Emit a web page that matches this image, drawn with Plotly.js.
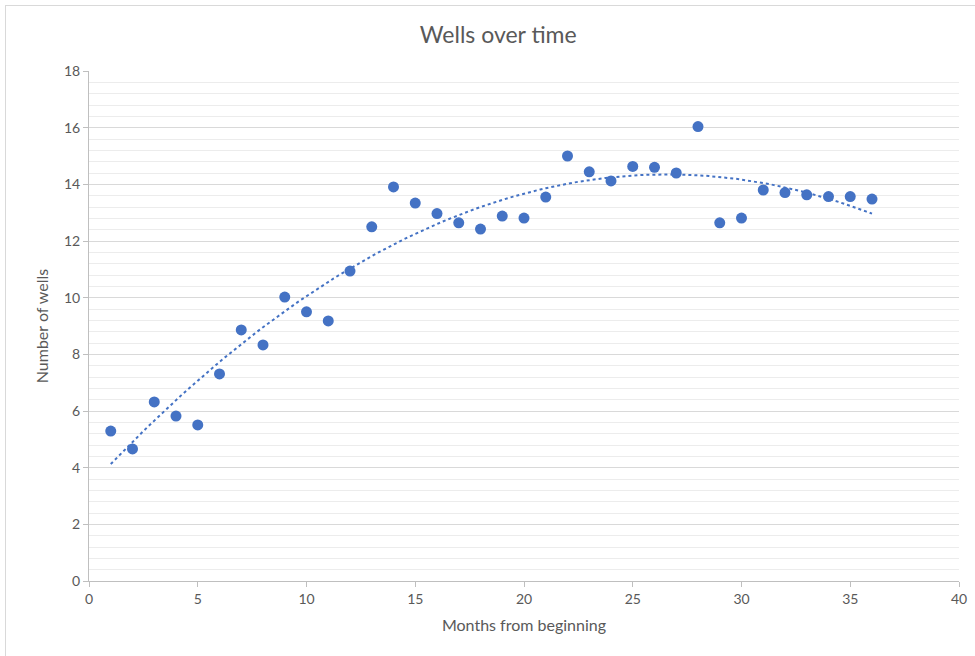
<!DOCTYPE html>
<html>
<head>
<meta charset="utf-8">
<script src="https://cdn.plot.ly/plotly-3.0.1.min.js"></script>
<style>
html,body{margin:0;padding:0;background:#fff;overflow:hidden;}
#frame{position:absolute;left:5px;top:5px;width:1000px;height:700px;border:1px solid #d9d9d9;box-sizing:border-box;}
#chart{position:absolute;left:0;top:0;width:975px;height:656px;}
</style>
</head>
<body>
<div id="frame"></div>
<div id="chart"></div>
<script>
const months = [1,2,3,4,5,6,7,8,9,10,11,12,13,14,15,16,17,18,19,20,21,22,23,24,25,26,27,28,29,30,31,32,33,34,35,36];
const wells = [5.29,4.66,6.32,5.82,5.51,7.31,8.86,8.33,10.02,9.50,9.18,10.94,12.50,13.91,13.34,12.97,12.64,12.42,12.88,12.81,13.55,15.00,14.44,14.12,14.63,14.60,14.40,16.04,12.64,12.81,13.80,13.71,13.63,13.57,13.57,13.48];
const xTicks = [0,5,10,15,20,25,30,35,40];
const yTicks = [0,2,4,6,8,10,12,14,16,18];

// Order-2 polynomial least-squares trendline computed from the data
function polyFit2(xs, ys){
  let S=[0,0,0,0,0], T=[0,0,0];
  for(let i=0;i<xs.length;i++){
    const x=xs[i], y=ys[i];
    for(let k=0;k<5;k++) S[k]+=Math.pow(x,k);
    for(let k=0;k<3;k++) T[k]+=y*Math.pow(x,k);
  }
  const A=[[S[0],S[1],S[2],T[0]],[S[1],S[2],S[3],T[1]],[S[2],S[3],S[4],T[2]]];
  for(let c=0;c<3;c++){
    for(let r=c+1;r<3;r++){
      const f=A[r][c]/A[c][c];
      for(let k=c;k<4;k++) A[r][k]-=f*A[c][k];
    }
  }
  const b=[0,0,0];
  for(let r=2;r>=0;r--){
    let s=A[r][3];
    for(let k=r+1;k<3;k++) s-=A[r][k]*b[k];
    b[r]=s/A[r][r];
  }
  return b;
}
const coef = polyFit2(months, wells);
const trendX = [], trendY = [];
for(let i=0;i<=140;i++){
  const x = months[0] + (months[months.length-1]-months[0])*i/140;
  trendX.push(x);
  trendY.push(coef[0]+coef[1]*x+coef[2]*x*x);
}

const font = "Lato, 'Open Sans', 'Liberation Sans', sans-serif";
const traces = [
  {x: trendX, y: trendY, mode:'lines', type:'scatter', hoverinfo:'skip',
   line:{color:'#4472C4', width:2, dash:'dot'}},
  {x: months, y: wells, mode:'markers', type:'scatter',
   marker:{color:'#4472C4', size:11, line:{width:0}}}
];
const layout = {
  width:975, height:656,
  margin:{l:89, r:16, t:71, b:75},
  paper_bgcolor:'rgba(0,0,0,0)', plot_bgcolor:'rgba(0,0,0,0)',
  showlegend:false,
  font:{family:font, color:'#595959', size:14},
  title:{text:'Wells over time', x:0.511, xanchor:'center', y:0.947, yanchor:'middle',
         font:{family:font, size:23, color:'#595959'}},
  xaxis:{range:[0,40], tickvals:xTicks, ticktext:xTicks.map(String),
         showgrid:false, zeroline:false, showline:true, linecolor:'#bfbfbf', linewidth:1,
         ticks:'outside', ticklen:5, tickcolor:'#bfbfbf',
         tickfont:{size:14, color:'#595959'},
         title:{text:'Months from beginning', standoff:14, font:{size:16, color:'#595959'}}},
  yaxis:{range:[0,18], tickvals:yTicks, ticktext:yTicks.map(String),
         showgrid:true, gridcolor:'#d9d9d9', gridwidth:1, zeroline:false,
         showline:true, linecolor:'#bfbfbf', linewidth:1,
         ticks:'outside', ticklen:5, tickcolor:'#bfbfbf',
         tickfont:{size:14, color:'#595959'},
         minor:{dtick:0.4, showgrid:true, gridcolor:'#ececec', gridwidth:1, ticks:''},
         title:{text:'Number of wells', standoff:11, font:{size:16, color:'#595959'}}}
};
Plotly.newPlot('chart', traces, layout, {displayModeBar:false, staticPlot:true});
</script>
</body>
</html>
